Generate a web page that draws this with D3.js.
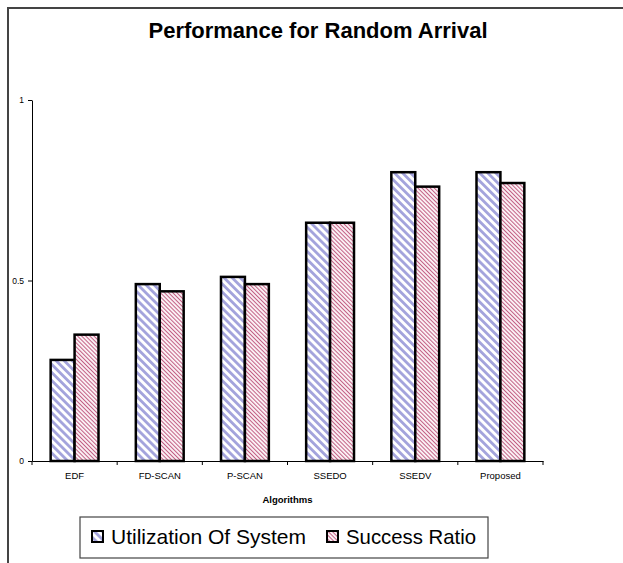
<!DOCTYPE html>
<html>
<head>
<meta charset="utf-8">
<script src="https://cdn.jsdelivr.net/npm/d3@7"></script>
<style>
  body { margin: 0; background: #fff; }
  svg { display: block; font-family: 'Liberation Sans', Arial, sans-serif; }
</style>
</head>
<body>
<svg id="chart" width="623" height="563"></svg>
<script>
const categories = ['EDF', 'FD-SCAN', 'P-SCAN', 'SSEDO', 'SSEDV', 'Proposed']
const series = ['Utilization Of System', 'Success Ratio']
const utilization = [0.28, 0.49, 0.51, 0.66, 0.80, 0.80]
const successRatio = [0.35, 0.47, 0.49, 0.66, 0.76, 0.77]
const yTicks = [0, 0.5, 1]

const svg = d3.select('#chart')
const plot = { left: 32, right: 543, top: 100, bottom: 461 }

// patterns
const defs = svg.append('defs')
const blue = defs.append('pattern')
  .attr('id', 'pat-blue')
  .attr('patternUnits', 'userSpaceOnUse')
  .attr('width', 5.7)
  .attr('height', 5.7)
  .attr('patternTransform', 'rotate(-45)')
blue.append('rect').attr('width', 5.7).attr('height', 5.7).attr('fill', '#fff')
blue.append('rect').attr('width', 2.8).attr('height', 5.7).attr('fill', '#a3a3dc')

const pink = defs.append('pattern')
  .attr('id', 'pat-pink')
  .attr('patternUnits', 'userSpaceOnUse')
  .attr('width', 2.9)
  .attr('height', 2.9)
  .attr('patternTransform', 'rotate(-45)')
pink.append('rect').attr('width', 2.9).attr('height', 2.9).attr('fill', '#fbf2f5')
pink.append('rect').attr('width', 1.0).attr('height', 2.9).attr('fill', '#c25f84')

const fills = { 'Utilization Of System': 'url(#pat-blue)', 'Success Ratio': 'url(#pat-pink)' }

// outer frame (only top and left visible)
svg.append('path')
  .attr('d', 'M8,563 V8 H623')
  .attr('fill', 'none')
  .attr('stroke', '#444')
  .attr('stroke-width', 2)

svg.append('text')
  .attr('x', 318)
  .attr('y', 38)
  .attr('text-anchor', 'middle')
  .attr('font-size', 22)
  .attr('font-weight', 'bold')
  .text('Performance for Random Arrival')

const x0 = d3.scaleBand().domain(categories).range([plot.left, plot.right]).padding(0)
const x1 = d3.scaleBand().domain(series).range([0, x0.bandwidth()]).paddingInner(0).paddingOuter(0.78)
const y = d3.scaleLinear().domain([0, 1]).range([plot.bottom, plot.top])

const data = categories.map((c, i) => ({
  cat: c,
  values: [
    { key: series[0], value: utilization[i] },
    { key: series[1], value: successRatio[i] }
  ]
}))

// bars
const groups = svg.append('g').selectAll('g')
  .data(data)
  .join('g')
  .attr('transform', d => `translate(${x0(d.cat)},0)`)

groups.selectAll('rect')
  .data(d => d.values)
  .join('rect')
  .attr('x', d => x1(d.key))
  .attr('y', d => y(d.value))
  .attr('width', x1.bandwidth())
  .attr('height', d => y(0) - y(d.value))
  .attr('fill', d => fills[d.key])
  .attr('stroke', '#000')
  .attr('stroke-width', 2.5)

// y axis
const yAxis = svg.append('g')
  .attr('transform', `translate(${plot.left},0)`)
  .call(d3.axisLeft(y).tickValues(yTicks).tickFormat(d3.format('')).tickSize(4).tickSizeOuter(0))
yAxis.select('.domain').attr('stroke', '#000')
yAxis.selectAll('text').attr('font-size', 8.5).attr('font-family', 'Liberation Sans, Arial, sans-serif').attr('dx', '-1')

// x axis: labels centred, ticks on category boundaries
const xAxis = svg.append('g')
  .attr('transform', `translate(0,${plot.bottom})`)
  .call(d3.axisBottom(x0).tickSize(0).tickPadding(11).tickSizeOuter(0))
xAxis.selectAll('text').attr('font-size', 9.5).attr('font-family', 'Liberation Sans, Arial, sans-serif')
const bounds = categories.map(c => x0(c)).concat([x0.range()[1]])
xAxis.selectAll('.bound')
  .data(bounds)
  .join('line')
  .attr('class', 'bound')
  .attr('x1', d => d).attr('x2', d => d)
  .attr('y1', 0).attr('y2', 4)
  .attr('stroke', '#000')

svg.append('text')
  .attr('x', (plot.left + plot.right) / 2)
  .attr('y', 503)
  .attr('text-anchor', 'middle')
  .attr('font-size', 9.5)
  .attr('font-weight', 'bold')
  .text('Algorithms')

// legend
const legend = svg.append('g').attr('transform', 'translate(80,517)')
legend.append('rect')
  .attr('width', 408)
  .attr('height', 41)
  .attr('fill', '#fff')
  .attr('stroke', '#444')
  .attr('stroke-width', 1.2)

const legendX = [12, 247]
const items = legend.selectAll('.legend-item')
  .data(series)
  .join('g')
  .attr('class', 'legend-item')
  .attr('transform', (d, i) => `translate(${legendX[i]},14)`)
items.append('rect')
  .attr('width', 11)
  .attr('height', 11)
  .attr('fill', d => fills[d])
  .attr('stroke', '#000')
  .attr('stroke-width', 2)
items.append('text')
  .attr('x', 19)
  .attr('y', 13)
  .attr('font-size', 21)
  .attr('textLength', d => d === series[0] ? 195 : 130)
  .attr('lengthAdjust', 'spacingAndGlyphs')
  .text(d => d)
</script>
</body>
</html>
